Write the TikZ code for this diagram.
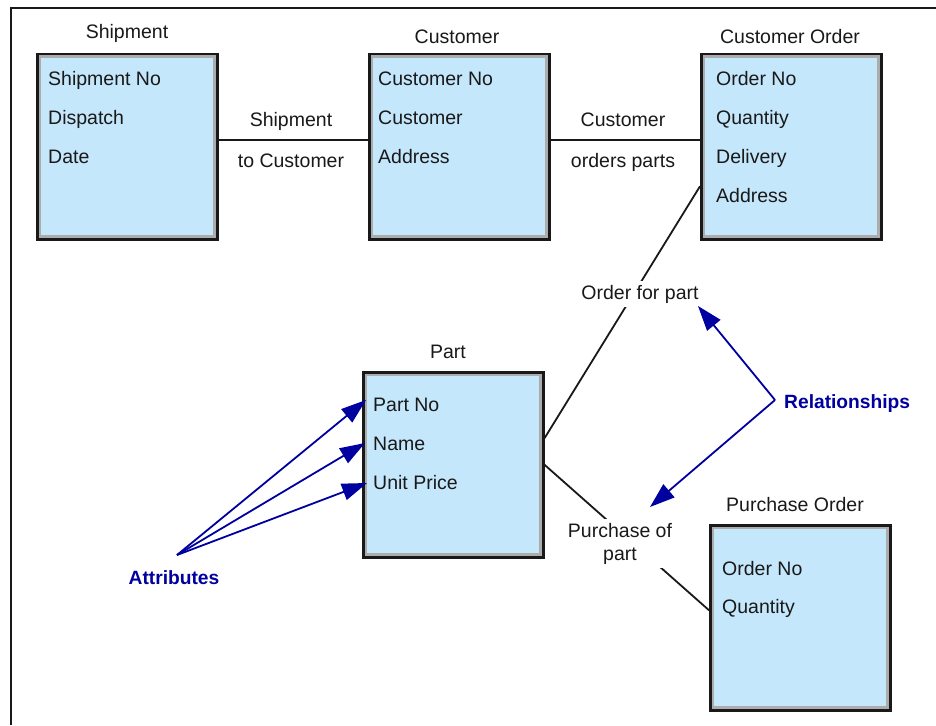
\documentclass[tikz,border=0pt]{standalone}
\usepackage{fontspec}
\setmainfont{Liberation Sans}
\usetikzlibrary{arrows.meta}
\definecolor{boxfill}{RGB}{197,231,251}
\definecolor{boxgray}{RGB}{172,172,172}
\definecolor{arrowblue}{RGB}{0,0,160}
\definecolor{ink}{RGB}{25,25,25}
\begin{document}
\begin{tikzpicture}[x=1pt,y=-1pt,
  every node/.style={font=\fontsize{19.5}{23}\selectfont, text=ink},
  erbox/.style={draw=ink, line width=2.5pt, fill=boxfill, minimum width=180pt,
    minimum height=185pt, anchor=north west, inner sep=0pt,
    path picture={\draw[boxgray,line width=8pt] (path picture bounding box.north west) rectangle (path picture bounding box.south east);}},
  attr/.style={anchor=base west, inner sep=0pt},
  ttl/.style={anchor=base, inner sep=0pt},
  rel/.style={anchor=base, inner sep=0pt},
  rellbl/.style={fill=white, inner sep=4pt},
  conn/.style={draw=ink, line width=1.8pt},
  note/.style={font=\fontsize{19.2}{23}\selectfont\bfseries, text=arrowblue, inner sep=0pt},
  bluearrow/.style={draw=arrowblue, line width=1.8pt, -{Triangle[length=25pt,width=17pt]}}
]
\useasboundingbox (0,0) rectangle (936,725);
\fill[white] (0,0) rectangle (936,725);
% frame
\draw[ink, line width=2pt] (11,725) -- (11,8) -- (936,8);

% boxes
\node[erbox] (ship) at (36,53) {};
\node[erbox] (cust) at (368,53) {};
\node[erbox] (co) at (700,53) {};
\node[erbox] (part) at (362,371) {};
\node[erbox] (po) at (709,524) {};

% titles
\node[ttl] (shipt) at (127,39) {Shipment};
\node[ttl] (custt) at (457,44) {Customer};
\node[ttl] (cot) at (790,44) {Customer Order};
\node[ttl] (partt) at (448,358) {Part};
\node[ttl] (pot) at (795,511) {Purchase Order};

% attributes
\node[attr] (s1) at (48,85) {Shipment No};
\node[attr] (s2) at (48,124) {Dispatch};
\node[attr] (s3) at (48,163) {Date};
\node[attr] (c1) at (378,85) {Customer No};
\node[attr] (c2) at (378,124) {Customer};
\node[attr] (c3) at (378,163) {Address};
\node[attr] (o1) at (716,85) {Order No};
\node[attr] (o2) at (716,124) {Quantity};
\node[attr] (o3) at (716,163) {Delivery};
\node[attr] (o4) at (716,202) {Address};
\node[attr] (p1) at (373,411) {Part No};
\node[attr] (p2) at (373,450) {Name};
\node[attr] (p3) at (373,489) {Unit Price};
\node[attr] (q1) at (722,575) {Order No};
\node[attr] (q2) at (722,613) {Quantity};

% relationships
\draw[conn] ([yshift=6.5pt]ship.east) -- ([yshift=6.5pt]cust.west);
\node[rel] (r1a) at (291,126) {Shipment};
\node[rel] (r1b) at (291,167) {to Customer};
\draw[conn] ([yshift=6.5pt]cust.east) -- ([yshift=6.5pt]co.west);
\node[rel] (r2a) at (623,126) {Customer};
\node[rel] (r2b) at (623,167) {orders parts};
\draw[conn] ([yshift=-39.5pt]co.west) -- ([yshift=26.5pt]part.east);
\node[rellbl, anchor=base] (r3) at (640,299) {Order for part};
\draw[conn] (part.east) -- ([yshift=7.5pt]po.west);
\node[rellbl, align=center] (r4) at (620,543.5) {Purchase of\\part};

% annotations
\node[note, anchor=base] (attrs) at (174,584) {Attributes};
\coordinate (asrc) at (177,555);
\coordinate (a1) at (366,400);
\coordinate (a2) at (365,443);
\coordinate (a3) at (367,483);
\draw[bluearrow] (asrc) -- (a1);
\draw[bluearrow] (asrc) -- (a2);
\draw[bluearrow] (asrc) -- (a3);

\node[note, anchor=base west] (rels) at (784,408) {Relationships};
\coordinate (rsrc) at (775,400);
\coordinate (b1) at (698,306);
\coordinate (b2) at (650,507);
\draw[bluearrow] (rsrc) -- (b1);
\draw[bluearrow] (rsrc) -- (b2);
\end{tikzpicture}
\end{document}
